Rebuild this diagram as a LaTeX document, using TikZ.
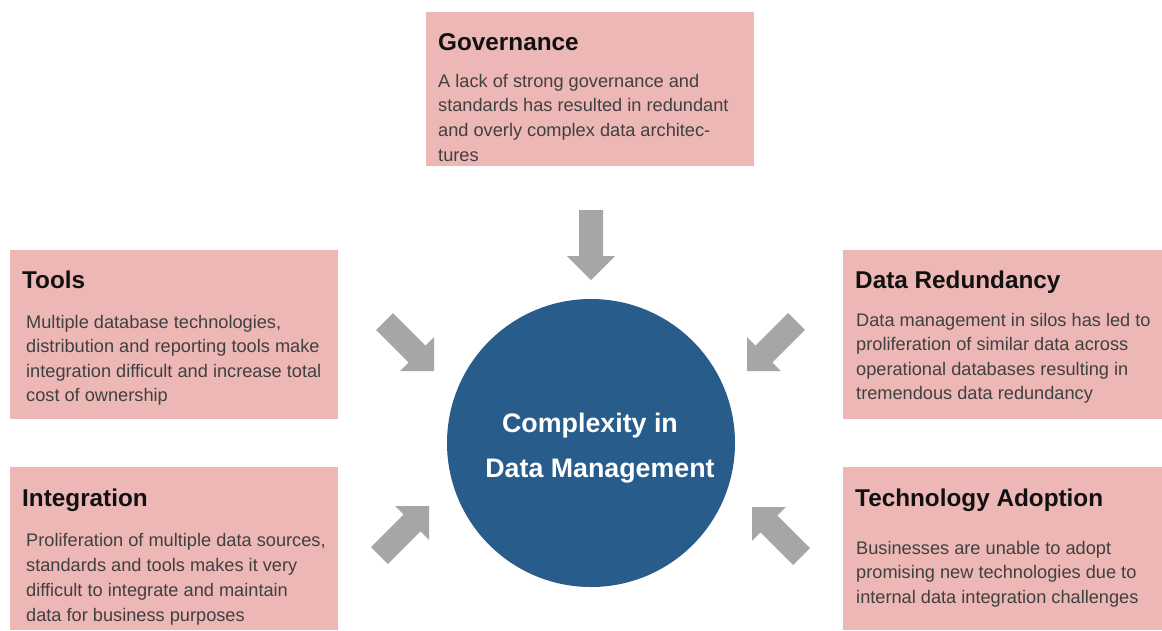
\documentclass[tikz,border=0pt]{standalone}
\usepackage{fontspec}
\setmainfont{Liberation Sans}
\definecolor{boxpink}{HTML}{ECB7B5}
\definecolor{coreblue}{HTML}{285D8B}
\definecolor{arrowgray}{HTML}{A6A6A6}
\definecolor{titleblack}{HTML}{111111}
\definecolor{bodygray}{HTML}{404040}
\begin{document}
\begin{tikzpicture}[x=1pt,y=-1pt,
  box/.style={rectangle,fill=boxpink,inner sep=0pt,outer sep=0pt,anchor=north west},
  ttl/.style={anchor=base west,inner sep=0pt,font=\fontsize{24.3}{28}\selectfont\bfseries,text=titleblack},
  bdy/.style={anchor=base west,inner sep=0pt,font=\fontsize{18.2}{24}\selectfont,text=bodygray},
  ctr/.style={anchor=base,inner sep=0pt,font=\fontsize{26.8}{30}\selectfont\bfseries,text=white},
  barrow/.pic={\fill[arrowgray] (0,-12) -- (46,-12) -- (46,-24) -- (70,0) -- (46,24) -- (46,12) -- (0,12) -- cycle;}]
\useasboundingbox (0,0) rectangle (1162,630);
\fill[white] (0,0) rectangle (1162,630);

% boxes
\node[box,minimum width=328pt,minimum height=154pt] (gov) at (426,12) {};
\node[box,minimum width=328pt,minimum height=169pt] (tools) at (10,250) {};
\node[box,minimum width=328pt,minimum height=163pt] (integ) at (10,467) {};
\node[box,minimum width=319pt,minimum height=169pt] (redun) at (843,250) {};
\node[box,minimum width=319pt,minimum height=163pt] (tech) at (843,467) {};

% central circle
\node[circle,fill=coreblue,minimum size=288pt,inner sep=0pt] (core) at (591,443) {};
\node[ctr] (core1) at (590,432) {Complexity in};
\node[ctr] (core2) at (600,477) {Data Management};

% Governance
\node[ttl] (govt) at (438,50) {Governance};
\node[bdy] (govb1) at (438,87) {A lack of strong governance and};
\node[bdy] (govb2) at (438,111) {standards has resulted in redundant};
\node[bdy] (govb3) at (438,136) {and overly complex data architec-};
\node[bdy] (govb4) at (438,161) {tures};

% Tools
\node[ttl] (toolst) at (22,288) {Tools};
\node[bdy] (toolsb1) at (26,328) {Multiple database technologies,};
\node[bdy] (toolsb2) at (26,352) {distribution and reporting tools make};
\node[bdy] (toolsb3) at (26,377) {integration difficult and increase total};
\node[bdy] (toolsb4) at (26,401) {cost of ownership};

% Integration
\node[ttl] (integt) at (22,506) {Integration};
\node[bdy] (integb1) at (26,546) {Proliferation of multiple data sources,};
\node[bdy] (integb2) at (26,571) {standards and tools makes it very};
\node[bdy] (integb3) at (26,596) {difficult to integrate and maintain};
\node[bdy] (integb4) at (26,621) {data for business purposes};

% Data Redundancy
\node[ttl] (redunt) at (855,288) {Data Redundancy};
\node[bdy] (redunb1) at (856,326) {Data management in silos has led to};
\node[bdy] (redunb2) at (856,350) {proliferation of similar data across};
\node[bdy] (redunb3) at (856,375) {operational databases resulting in};
\node[bdy] (redunb4) at (856,399) {tremendous data redundancy};

% Technology Adoption
\node[ttl] (techt) at (855,506) {Technology Adoption};
\node[bdy] (techb1) at (856,554) {Businesses are unable to adopt};
\node[bdy] (techb2) at (856,578) {promising new technologies due to};
\node[bdy] (techb3) at (856,603) {internal data integration challenges};

% block arrows (tail coordinates)
\coordinate (agov) at (591,210);
\coordinate (atools) at (384.5,321.5);
\coordinate (aredun) at (796.5,321.5);
\coordinate (ainteg) at (379.5,555.5);
\coordinate (atech) at (801.5,556.5);
\pic[rotate=-90] at (agov) {barrow};
\pic[rotate=-45] at (atools) {barrow};
\pic[rotate=-135] at (aredun) {barrow};
\pic[rotate=45] at (ainteg) {barrow};
\pic[rotate=135] at (atech) {barrow};
\end{tikzpicture}
\end{document}
